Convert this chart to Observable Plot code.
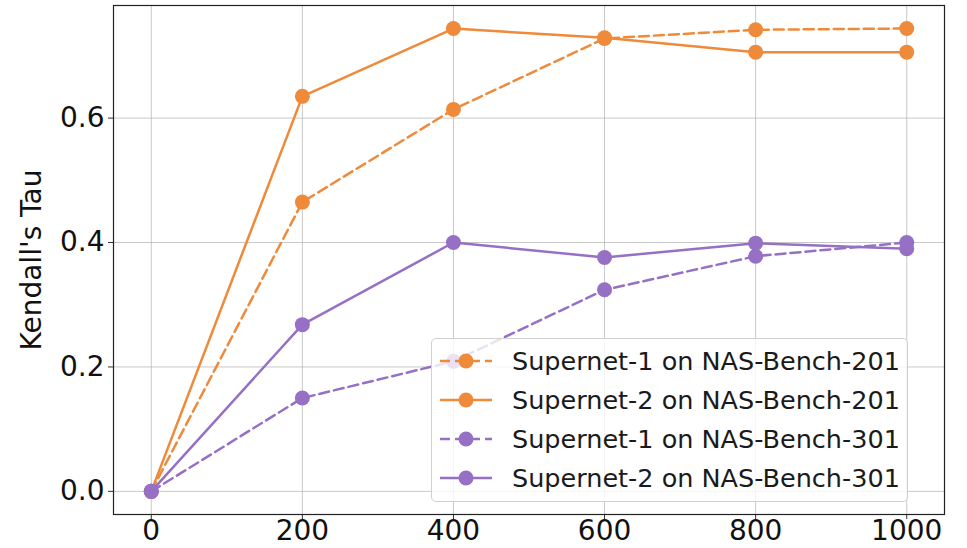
<!DOCTYPE html>
<html>
<head>
<meta charset="utf-8">
<script src="https://cdn.jsdelivr.net/npm/d3@7"></script>
<script src="https://cdn.jsdelivr.net/npm/@observablehq/plot@0.6"></script>
<style>
  html, body { margin: 0; padding: 0; background: #fff; }
  #wrap { position: relative; width: 967px; height: 548px; font-family: "DejaVu Sans", sans-serif; }
  #legend { position: absolute; left: 431px; top: 338px; width: 477px; height: 164px;
    background: rgba(255,255,255,0.8); border: 1px solid #d0d0d0; border-radius: 5px; box-sizing: border-box; }
  .row { position: absolute; left: 8px; height: 39px; display: flex; align-items: center; }
  .row span { font-size: 25.5px; color: #1a1a1a; margin-left: 20px; white-space: nowrap; }
</style>
</head>
<body>
<div id="wrap"></div>
<script>
const steps = [0, 200, 400, 600, 800, 1000];
const seriesNames = [
  "Supernet-1 on NAS-Bench-201",
  "Supernet-2 on NAS-Bench-201",
  "Supernet-1 on NAS-Bench-301",
  "Supernet-2 on NAS-Bench-301"
];
const supernet1_201 = [0, 0.465, 0.614, 0.728, 0.742, 0.744];
const supernet2_201 = [0, 0.635, 0.744, 0.729, 0.706, 0.706];
const supernet1_301 = [0, 0.150, 0.209, 0.324, 0.378, 0.400];
const supernet2_301 = [0, 0.268, 0.400, 0.376, 0.399, 0.390];
const seriesValues = [supernet1_201, supernet2_201, supernet1_301, supernet2_301];
const seriesColors = ["#ef8a3a", "#ef8a3a", "#9570c4", "#9570c4"];
const seriesDash = ["10,5", null, "10,5", null];
const xTicks = [0, 200, 400, 600, 800, 1000];
const yTicks = [0.0, 0.2, 0.4, 0.6];
const yLabel = "Kendall's Tau";

const marks = [
  Plot.gridX(xTicks, {stroke: "#b0b0b0", strokeOpacity: 0.7, strokeWidth: 1}),
  Plot.gridY(yTicks, {stroke: "#b0b0b0", strokeOpacity: 0.7, strokeWidth: 1}),
  Plot.axisX({ticks: xTicks, tickSize: 5, tickPadding: 1, fontSize: 28, tickFormat: d3.format("d"), label: null, stroke: "#333"}),
  Plot.axisY({ticks: yTicks, tickSize: 5, tickPadding: 4, fontSize: 28, tickFormat: d3.format(".1f"),
    label: yLabel, labelAnchor: "center", labelArrow: "none", labelOffset: 92, stroke: "#333"}),
];
seriesValues.forEach((vals, i) => {
  const data = steps.map((s, j) => ({x: s, y: vals[j]}));
  marks.push(Plot.line(data, {x: "x", y: "y", stroke: seriesColors[i], strokeWidth: 2.5,
    strokeDasharray: seriesDash[i] || undefined}));
  marks.push(Plot.dot(data, {x: "x", y: "y", r: 7.5, fill: seriesColors[i], stroke: "none"}));
});
marks.push(Plot.frame({stroke: "#222", strokeWidth: 1.2}));

const chart = Plot.plot({
  width: 967, height: 548,
  marginLeft: 113, marginRight: 23, marginTop: 5, marginBottom: 34,
  style: {fontFamily: "DejaVu Sans", fontSize: "28px", color: "#111", background: "transparent"},
  x: {domain: [-50, 1050]},
  y: {domain: [-0.0372, 0.781]},
  marks
});
const wrap = document.getElementById("wrap");
wrap.appendChild(chart);

const legend = document.createElement("div");
legend.id = "legend";
seriesNames.forEach((name, i) => {
  const row = document.createElement("div");
  row.className = "row";
  row.style.top = (2 + i * 39) + "px";
  const dash = seriesDash[i] ? `stroke-dasharray="10,5"` : "";
  row.innerHTML = `<svg width="52" height="20"><line x1="0" y1="10" x2="52" y2="10" stroke="${seriesColors[i]}" stroke-width="2.5" ${dash}/><circle cx="26" cy="10" r="7.5" fill="${seriesColors[i]}"/></svg><span>${name}</span>`;
  legend.appendChild(row);
});
wrap.appendChild(legend);
</script>
</body>
</html>
